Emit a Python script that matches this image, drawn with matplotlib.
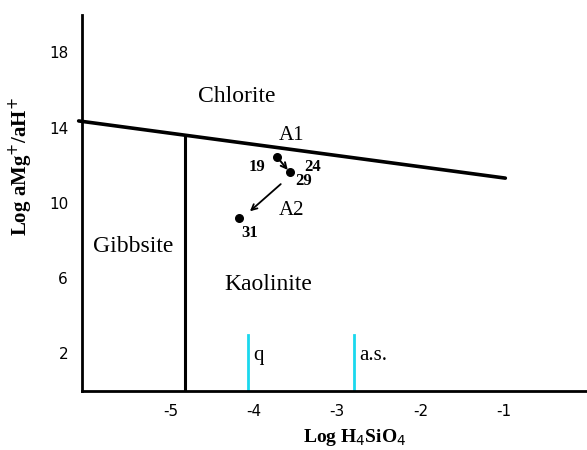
import matplotlib.pyplot as plt
import numpy as np

# stability boundaries (Log H4SiO4, Log aMg/aH)
chl_x = [-6.1, -0.98]
chl_y = [14.36, 11.32]
gib_x = [-4.82, -4.82]
gib_y = [0, 13.5]
cyan_x = [-4.07, -2.80]
cyan_top = 2.96
cyan_labels = ['q', 'a.s.']

# samples
pt_x = [-3.72, -3.57, -4.18]
pt_y = [12.45, 11.64, 9.19]
pt_labels = ['19', '29', '31']
move_x = [-3.65, -4.07]
move_y = [11.1, 9.46]

xticks = [-5, -4, -3, -2, -1]
yticks = [2, 6, 10, 14, 18]

serif = 'Liberation Serif'

fig = plt.figure(figsize=(5.87, 4.5), dpi=100)
ax = fig.add_axes([0.1397, 0.131, 0.8603, 0.836])
ax.set_xlim(-6.06, 0)
ax.set_ylim(0, 20)

ax.plot(chl_x, chl_y, color='black', lw=2.6, solid_capstyle='round', clip_on=False)
ax.plot(gib_x, gib_y, color='black', lw=2.2)
for xv, lab in zip(cyan_x, cyan_labels):
    ax.plot([xv, xv], [0, cyan_top], color='#1ad8ee', lw=2)
    ax.text(xv + 0.07, 1.89, lab, fontsize=15, family=serif, va='center')

ax.scatter(pt_x, pt_y, s=30, color='black', zorder=3)
ax.annotate('', xy=(pt_x[1], pt_y[1]), xytext=(pt_x[0], pt_y[0]),
            arrowprops=dict(arrowstyle='->', color='black', lw=1.4))
ax.annotate('', xy=(move_x[1], move_y[1]), xytext=(move_x[0], move_y[0]),
            arrowprops=dict(arrowstyle='->', color='black', lw=1.3))

ax.text(-3.96, 11.9, pt_labels[0], fontsize=12, family=serif, weight='bold', ha='center', va='center')
ax.text(-3.29, 11.9, '24', fontsize=12, family=serif, weight='bold', ha='center', va='center')
ax.text(-3.40, 11.16, pt_labels[1], fontsize=12, family=serif, weight='bold', ha='center', va='center')
ax.text(-4.05, 8.39, pt_labels[2], fontsize=12, family=serif, weight='bold', ha='center', va='center')
ax.text(-3.54, 13.61, 'A1', fontsize=15, family=serif, ha='center', va='center')
ax.text(-3.54, 9.62, 'A2', fontsize=15, family=serif, ha='center', va='center')
ax.text(-4.2, 15.68, 'Chlorite', fontsize=17, family=serif, ha='center', va='center')
ax.text(-5.45, 7.7, 'Gibbsite', fontsize=17, family=serif, ha='center', va='center')
ax.text(-3.83, 5.67, 'Kaolinite', fontsize=17, family=serif, ha='center', va='center')

ax.spines['top'].set_visible(False)
ax.spines['right'].set_visible(False)
ax.spines['left'].set_linewidth(2)
ax.spines['bottom'].set_linewidth(2)
ax.set_xticks(xticks)
ax.set_yticks(yticks)
ax.set_xticklabels([str(v) for v in xticks], fontsize=11)
ax.set_yticklabels([str(v) for v in yticks], fontsize=11)
ax.tick_params(length=0)
ax.tick_params(axis='x', pad=9)
ax.tick_params(axis='y', pad=10)
ax.set_xlabel('Log H$_4$SiO$_4$', fontsize=14, family=serif, weight='bold')
ax.set_ylabel('Log aMg$^{+}$/aH$^{+}$', fontsize=15, family=serif, weight='bold')
ax.xaxis.set_label_coords((355 - 82) / 505, -0.095)
ax.yaxis.set_label_coords(-47 / 505, 0.596)

fig.savefig('out.png', dpi=100)
